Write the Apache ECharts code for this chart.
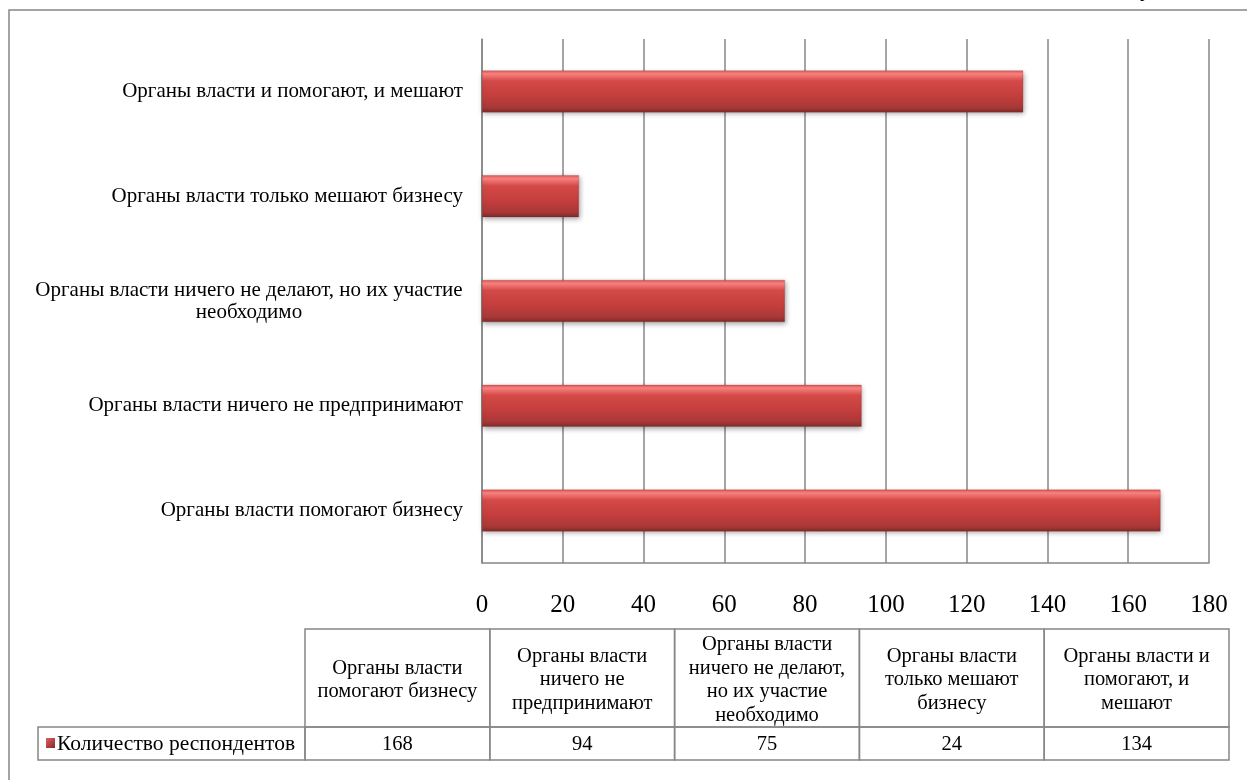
<!DOCTYPE html>
<html>
<head>
<meta charset="utf-8">
<script src="https://cdn.jsdelivr.net/npm/echarts@6/dist/echarts.min.js"></script>
<style>
html,body{margin:0;padding:0;background:#fff;}
#c{width:1247px;height:780px;}
</style>
</head>
<body>
<div id="c"></div>
<script>
// ---- data ----
const categories = [
  'Органы власти помогают бизнесу',
  'Органы власти ничего не предпринимают',
  'Органы власти ничего не делают, но их участие необходимо',
  'Органы власти только мешают бизнесу',
  'Органы власти и помогают, и мешают'
];
const axisLabels = [
  'Органы власти помогают бизнесу',
  'Органы власти ничего не предпринимают',
  'Органы власти ничего не делают, но их участие\nнеобходимо',
  'Органы власти только мешают бизнесу',
  'Органы власти и помогают, и мешают'
];
const tableHeaders = [
  'Органы власти\nпомогают бизнесу',
  'Органы власти\nничего не\nпредпринимают',
  'Органы власти\nничего не делают,\nно их участие\nнеобходимо',
  'Органы власти\nтолько мешают\nбизнесу',
  'Органы власти и\nпомогают, и\nмешают'
];
const seriesName = 'Количество респондентов';
const values = [168, 94, 75, 24, 134];
const xMin = 0, xMax = 180, xStep = 20;

// ---- style ----
const FONT = "'Liberation Serif', 'Times New Roman', serif";
const GRAY = '#878787';
const LABEL_SIZE = 21;
const barGrad = new echarts.graphic.LinearGradient(0, 0, 0, 1, [
  {offset: 0, color: '#d85452'},
  {offset: 0.08, color: '#fa8280'},
  {offset: 0.25, color: '#d44a48'},
  {offset: 0.6, color: '#c43e3d'},
  {offset: 0.88, color: '#a83837'},
  {offset: 1, color: '#7e2a2a'}
]);
const keyGrad = new echarts.graphic.LinearGradient(0, 0, 1, 1, [
  {offset: 0, color: '#e06060'},
  {offset: 1, color: '#8a2828'}
]);

// measure text for centring multi-line labels within their block
const mctx = document.createElement('canvas').getContext('2d');
mctx.font = LABEL_SIZE + 'px ' + FONT;
function labelFmt(v, idx) {
  const lines = axisLabels[idx].split('\n');
  if (lines.length === 1) return lines[0];
  const w = Math.ceil(Math.max.apply(null, lines.map(l => mctx.measureText(l).width)));
  labelRich.c.width = w;
  return lines.map(l => '{c|' + l + '}').join('\n');
}
const labelRich = {c: {width: 440, align: 'center', fontFamily: FONT, fontSize: LABEL_SIZE, lineHeight: 22, color: '#000'}};

const chart = echarts.init(document.getElementById('c'), null, {renderer: 'canvas'});

// table layout
const tX = 305, tTop = 629, colW = 184.8, headH = 98, rowH = 33;
const legX = 38;
const graphics = [];
// outer frame
graphics.push({type: 'rect', shape: {x: 9, y: 10, width: 1260, height: 800},
  style: {fill: 'none', stroke: GRAY, lineWidth: 1.5}, silent: true});
// cut-off text fragment at top
graphics.push({type: 'text', x: 1146, y: -22, style: {text: 'у', font: '24px ' + FONT, fill: '#000', textAlign: 'center'}});
tableHeaders.forEach((h, i) => {
  const x = tX + i * colW;
  graphics.push({type: 'rect', shape: {x: x, y: tTop, width: colW, height: headH},
    style: {fill: 'none', stroke: GRAY, lineWidth: 1.5}});
  graphics.push({type: 'rect', shape: {x: x, y: tTop + headH, width: colW, height: rowH},
    style: {fill: 'none', stroke: GRAY, lineWidth: 1.5}});
  graphics.push({type: 'text', x: x + colW / 2, y: tTop + headH / 2 + 2,
    style: {text: h, font: '20.5px ' + FONT, lineHeight: 23.5, fill: '#000', align: 'center', verticalAlign: 'middle'}});
  graphics.push({type: 'text', x: x + colW / 2, y: tTop + headH + rowH / 2 + 1,
    style: {text: String(values[i]), font: '20.5px ' + FONT, fill: '#000', align: 'center', verticalAlign: 'middle'}});
});
graphics.push({type: 'rect', shape: {x: legX, y: tTop + headH, width: tX - legX, height: rowH},
  style: {fill: 'none', stroke: GRAY, lineWidth: 1.5}});
graphics.push({type: 'rect', shape: {x: 46, y: tTop + headH + 11, width: 9, height: 10},
  style: {fill: keyGrad}});
graphics.push({type: 'text', x: 57, y: tTop + headH + rowH / 2 + 1,
  style: {text: seriesName, font: '21.5px ' + FONT, fill: '#000', align: 'left', verticalAlign: 'middle'}});

// precompute rich width
labelFmt(null, 2);

chart.setOption({
  animation: false,
  backgroundColor: '#fff',
  grid: {left: 482, top: 39, width: 727, height: 524, containLabel: false},
  xAxis: {
    type: 'value', min: xMin, max: xMax, interval: xStep,
    axisLine: {show: true, lineStyle: {color: GRAY, width: 1.5}},
    axisTick: {show: false},
    splitLine: {show: true, lineStyle: {color: GRAY, width: 1.5}},
    axisLabel: {color: '#000', fontFamily: FONT, fontSize: 25, margin: 30}
  },
  yAxis: {
    type: 'category', data: categories,
    axisLine: {show: true, lineStyle: {color: GRAY, width: 1.5}},
    axisTick: {show: false},
    axisLabel: {color: '#000', fontFamily: FONT, fontSize: LABEL_SIZE, lineHeight: 22, margin: 19,
      align: 'right', rich: labelRich,
      formatter: labelFmt}
  },
  series: [{
    name: seriesName, type: 'bar', data: values, barWidth: 42,
    itemStyle: {color: barGrad, shadowBlur: 5, shadowColor: 'rgba(0,0,0,0.35)', shadowOffsetX: 1, shadowOffsetY: 2,
      borderColor: 'rgba(120,30,30,0.4)', borderWidth: 0.5}
  }],
  graphic: graphics
});
</script>
</body>
</html>
